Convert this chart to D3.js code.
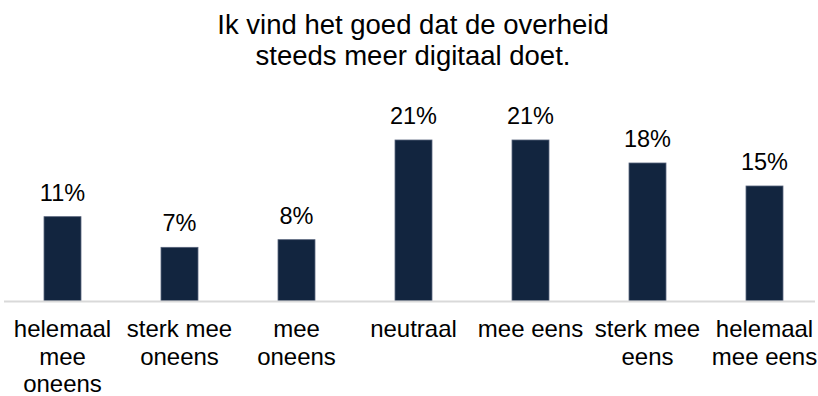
<!DOCTYPE html>
<html>
<head>
<meta charset="utf-8">
<script src="https://cdn.jsdelivr.net/npm/d3@7"></script>
<style>
  html, body { margin: 0; padding: 0; background: #fff; }
  svg { display: block; font-family: "Liberation Sans", Arial, sans-serif; }
</style>
</head>
<body>
<svg id="chart" width="818" height="396"></svg>
<script>
// Survey answers and their share of respondents (%)
const categories = [
  "helemaal mee oneens",
  "sterk mee oneens",
  "mee oneens",
  "neutraal",
  "mee eens",
  "sterk mee eens",
  "helemaal mee eens"
];
const values = [11, 7, 8, 21, 21, 18, 15];
const titleLines = ["Ik vind het goed dat de overheid", "steeds meer digitaal doet."];

const svg = d3.select("#chart");
const baseY = 301;

const x = d3.scaleBand()
  .domain(categories)
  .range([4, 823])
  .paddingInner(0.684)
  .paddingOuter(0.342);

const y = d3.scaleLinear()
  .domain([0, 21])
  .range([baseY, 140]);

// Title
svg.append("text")
  .attr("y", 34)
  .attr("text-anchor", "middle")
  .attr("font-size", 27.5)
  .attr("fill", "#000")
  .selectAll("tspan")
  .data(titleLines)
  .join("tspan")
  .attr("x", 413)
  .attr("dy", (d, i) => i === 0 ? 0 : 31)
  .text(d => d);

// Bars
svg.append("g")
  .selectAll("rect")
  .data(values)
  .join("rect")
  .attr("x", (d, i) => x(categories[i]))
  .attr("y", d => y(d))
  .attr("width", x.bandwidth())
  .attr("height", d => baseY - y(d))
  .attr("fill", "#12253f")
  .attr("stroke", "#56627a")
  .attr("stroke-width", 0.8);

// Value labels
svg.append("g")
  .selectAll("text")
  .data(values)
  .join("text")
  .attr("x", (d, i) => x(categories[i]) + x.bandwidth() / 2)
  .attr("y", d => y(d) - 16)
  .attr("text-anchor", "middle")
  .attr("font-size", 23.5)
  .attr("fill", "#000")
  .text(d => d + "%");

// Baseline axis
const axis = svg.append("g")
  .attr("transform", `translate(0,${baseY})`)
  .call(d3.axisBottom(x).tickSize(0).tickPadding(0).tickFormat(""));
axis.select(".domain")
  .attr("d", `M4,0.5H815`)
  .attr("stroke", "#d9d9d9")
  .attr("stroke-width", 2);

// Category labels, wrapped to the band width
const maxW = 110;
const labels = svg.append("g")
  .selectAll("text")
  .data(categories)
  .join("text")
  .attr("text-anchor", "middle")
  .attr("font-size", 24)
  .attr("fill", "#000")
  .attr("y", 337);

labels.each(function (d) {
  const t = d3.select(this);
  const cx = x(d) + x.bandwidth() / 2;
  const words = d.split(" ");
  let line = [];
  let tspan = t.append("tspan").attr("x", cx).attr("dy", 0);
  words.forEach(w => {
    line.push(w);
    tspan.text(line.join(" "));
    if (tspan.node().getComputedTextLength() > maxW && line.length > 1) {
      line.pop();
      tspan.text(line.join(" "));
      line = [w];
      tspan = t.append("tspan").attr("x", cx).attr("dy", 27.5).text(w);
    }
  });
});
</script>
</body>
</html>
